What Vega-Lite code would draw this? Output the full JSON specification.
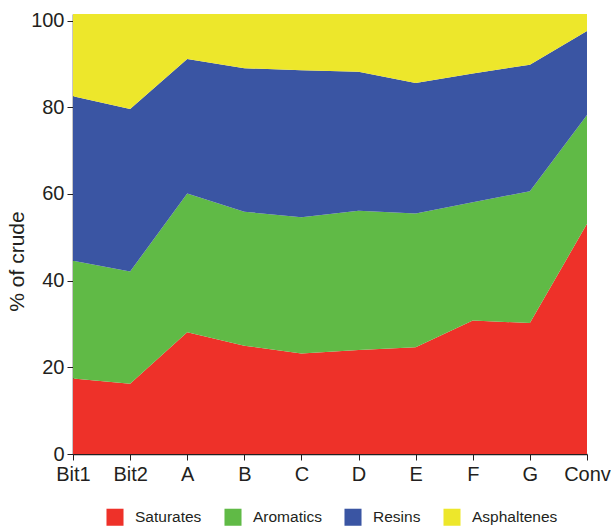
{
  "$schema": "https://vega.github.io/schema/vega-lite/v6.json",
  "autosize": {"type": "none"},
  "padding": {"left": 73, "top": 14, "right": 24, "bottom": 72},
  "width": 514,
  "height": 440,
  "background": "white",
  "config": {
    "view": {"stroke": null},
    "font": "Liberation Sans"
  },
  "data": {
    "values": [
      {"sample": "Bit1", "fraction": "Saturates", "pct": 17.4},
      {"sample": "Bit2", "fraction": "Saturates", "pct": 16.2},
      {"sample": "A", "fraction": "Saturates", "pct": 28.1},
      {"sample": "B", "fraction": "Saturates", "pct": 25.0},
      {"sample": "C", "fraction": "Saturates", "pct": 23.2},
      {"sample": "D", "fraction": "Saturates", "pct": 24.0},
      {"sample": "E", "fraction": "Saturates", "pct": 24.6},
      {"sample": "F", "fraction": "Saturates", "pct": 30.8},
      {"sample": "G", "fraction": "Saturates", "pct": 30.2},
      {"sample": "Conv", "fraction": "Saturates", "pct": 53.1},
      {"sample": "Bit1", "fraction": "Aromatics", "pct": 27.2},
      {"sample": "Bit2", "fraction": "Aromatics", "pct": 25.9},
      {"sample": "A", "fraction": "Aromatics", "pct": 32.0},
      {"sample": "B", "fraction": "Aromatics", "pct": 30.9},
      {"sample": "C", "fraction": "Aromatics", "pct": 31.4},
      {"sample": "D", "fraction": "Aromatics", "pct": 32.1},
      {"sample": "E", "fraction": "Aromatics", "pct": 30.9},
      {"sample": "F", "fraction": "Aromatics", "pct": 27.3},
      {"sample": "G", "fraction": "Aromatics", "pct": 30.4},
      {"sample": "Conv", "fraction": "Aromatics", "pct": 25.1},
      {"sample": "Bit1", "fraction": "Resins", "pct": 37.9},
      {"sample": "Bit2", "fraction": "Resins", "pct": 37.5},
      {"sample": "A", "fraction": "Resins", "pct": 31.0},
      {"sample": "B", "fraction": "Resins", "pct": 33.1},
      {"sample": "C", "fraction": "Resins", "pct": 33.9},
      {"sample": "D", "fraction": "Resins", "pct": 32.1},
      {"sample": "E", "fraction": "Resins", "pct": 30.1},
      {"sample": "F", "fraction": "Resins", "pct": 29.7},
      {"sample": "G", "fraction": "Resins", "pct": 29.2},
      {"sample": "Conv", "fraction": "Resins", "pct": 19.4},
      {"sample": "Bit1", "fraction": "Asphaltenes", "pct": 19.0},
      {"sample": "Bit2", "fraction": "Asphaltenes", "pct": 21.9},
      {"sample": "A", "fraction": "Asphaltenes", "pct": 10.4},
      {"sample": "B", "fraction": "Asphaltenes", "pct": 12.5},
      {"sample": "C", "fraction": "Asphaltenes", "pct": 13.0},
      {"sample": "D", "fraction": "Asphaltenes", "pct": 13.3},
      {"sample": "E", "fraction": "Asphaltenes", "pct": 15.9},
      {"sample": "F", "fraction": "Asphaltenes", "pct": 13.7},
      {"sample": "G", "fraction": "Asphaltenes", "pct": 11.7},
      {"sample": "Conv", "fraction": "Asphaltenes", "pct": 3.9}
    ]
  },
  "transform": [
    {"calculate": "indexof(['Saturates','Aromatics','Resins','Asphaltenes'], datum.fraction)", "as": "stackOrder"}
  ],
  "mark": {"type": "area", "interpolate": "linear"},
  "encoding": {
    "x": {
      "field": "sample",
      "type": "ordinal",
      "sort": ["Bit1", "Bit2", "A", "B", "C", "D", "E", "F", "G", "Conv"],
      "scale": {"type": "point", "padding": 0},
      "axis": {
        "title": null,
        "labelAngle": 0,
        "labelFontSize": 20,
        "labelColor": "#231F20",
        "labelPadding": 4,
        "tickSize": 6,
        "tickColor": "#231F20",
        "domainColor": "#231F20",
        "domainWidth": 1.5,
        "grid": false
      }
    },
    "y": {
      "field": "pct",
      "type": "quantitative",
      "aggregate": "sum",
      "stack": "zero",
      "scale": {"domain": [0, 101.5], "nice": false},
      "axis": {
        "title": "% of crude",
        "titleFontSize": 21,
        "titleFontWeight": "normal",
        "titleColor": "#231F20",
        "titleX": -46,
        "titleY": 247,
        "values": [0, 20, 40, 60, 80, 100],
        "labelFontSize": 20,
        "labelColor": "#231F20",
        "labelPadding": 3,
        "tickSize": 6,
        "tickColor": "#231F20",
        "domainColor": "#231F20",
        "domainWidth": 1.5,
        "grid": false
      }
    },
    "color": {
      "field": "fraction",
      "type": "nominal",
      "sort": ["Saturates", "Aromatics", "Resins", "Asphaltenes"],
      "scale": {
        "domain": ["Saturates", "Aromatics", "Resins", "Asphaltenes"],
        "range": ["#EE3129", "#60BA46", "#3A55A3", "#EDE72B"]
      },
      "legend": {
        "title": null,
        "orient": "none",
        "direction": "horizontal",
        "legendX": 33,
        "legendY": 494,
        "padding": 0,
        "symbolType": "square",
        "symbolSize": 290,
        "symbolStrokeWidth": 0,
        "symbolOpacity": 1,
        "labelFontSize": 15.5,
        "labelColor": "#231F20",
        "labelOffset": 11,
        "columnPadding": 22
      }
    },
    "order": {"field": "stackOrder", "type": "quantitative", "sort": "ascending"}
  }
}
